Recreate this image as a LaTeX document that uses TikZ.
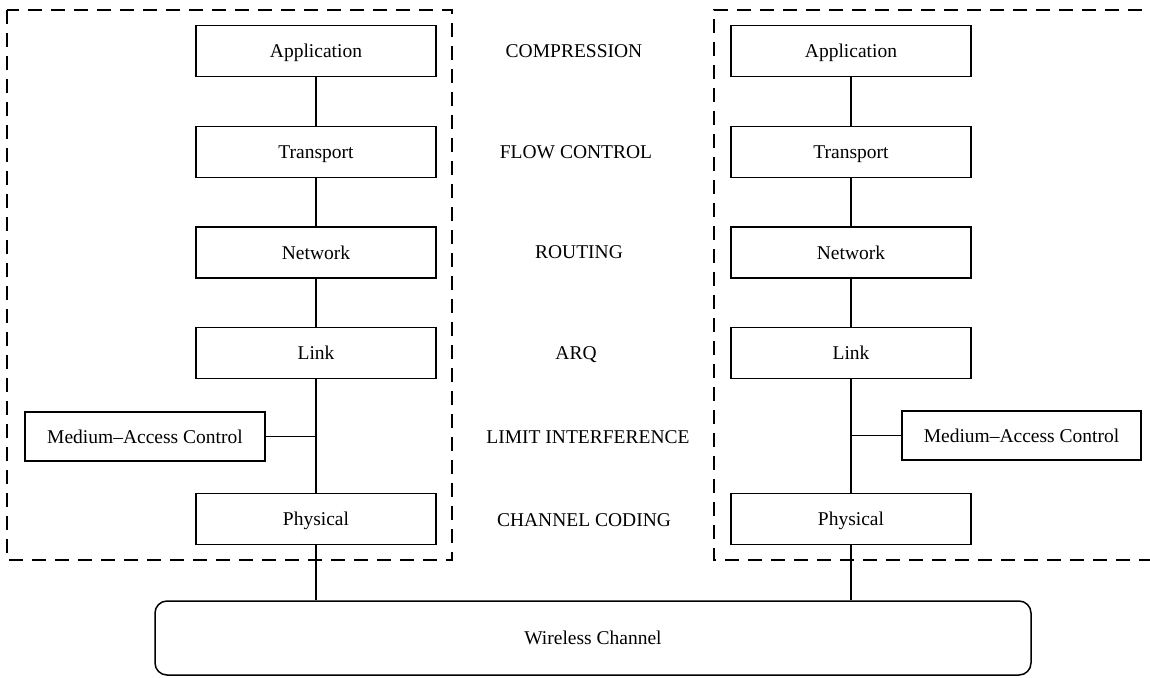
\documentclass[tikz,border=0pt]{standalone}
\usepackage{fontspec}
\setmainfont{Liberation Serif}
\begin{document}
\begin{tikzpicture}[x=1pt,y=-1pt,
  layerbox/.style={draw, line width=1.5pt, minimum width=240pt, minimum height=51pt, inner sep=0pt, text height=13pt, text depth=0pt, font=\fontsize{19.5}{22}\selectfont},
  lbl/.style={font=\fontsize{19.5}{22}\selectfont, inner sep=0pt, text height=13pt, text depth=0pt},
  conn/.style={line width=1.5pt},
  groupline/.style={line width=1.5pt, dash pattern=on 14pt off 9pt}]
\clip (0,0) rectangle (1150,677);
% dashed groups
\draw[groupline] (7,10) rectangle (452,560);
\draw[groupline] (1165,10) -- (714,10) -- (714,560) -- (1165,560);
% left stack
\node[layerbox] (la) at (316,51) {Application};
\node[layerbox] (lt) at (316,152) {Transport};
\node[layerbox] (ln) at (316,252.5) {Network};
\node[layerbox] (ll) at (316,353) {Link};
\node[layerbox, minimum width=240pt, minimum height=49pt] (lm) at (145,436.5) {Medium–Access Control};
\node[layerbox] (lp) at (316,519) {Physical};
% right stack
\node[layerbox] (ra) at (851,51) {Application};
\node[layerbox] (rt) at (851,152) {Transport};
\node[layerbox] (rn) at (851,252.5) {Network};
\node[layerbox] (rl) at (851,353) {Link};
\node[layerbox, minimum width=239pt, minimum height=49pt] (rm) at (1021.5,435.5) {Medium–Access Control};
\node[layerbox] (rp) at (851,519) {Physical};
% channel
\node[layerbox, rounded corners=12pt, minimum width=876pt, minimum height=74pt] (ch) at (593,638) {Wireless Channel};
% labels
\node[lbl] (t1) at (574,51) {COMPRESSION};
\node[lbl] (t2) at (576,152) {FLOW CONTROL};
\node[lbl] (t3) at (579,252) {ROUTING};
\node[lbl] (t4) at (576,353) {ARQ};
\node[lbl] (t5) at (588,437) {LIMIT INTERFERENCE};
\node[lbl] (t6) at (584,520) {CHANNEL CODING};
% connectors
\draw[conn] (la) -- (lt);
\draw[conn] (lt) -- (ln);
\draw[conn] (ln) -- (ll);
\draw[conn] (ll) -- (lp);
\draw[conn] (lm.east) -- (ll.south |- lm.east);
\draw[conn] (lp) -- (lp.south |- ch.north);
\draw[conn] (ra) -- (rt);
\draw[conn] (rt) -- (rn);
\draw[conn] (rn) -- (rl);
\draw[conn] (rl) -- (rp);
\draw[conn] (rm.west) -- (rl.south |- rm.west);
\draw[conn] (rp) -- (rp.south |- ch.north);
\end{tikzpicture}
\end{document}
